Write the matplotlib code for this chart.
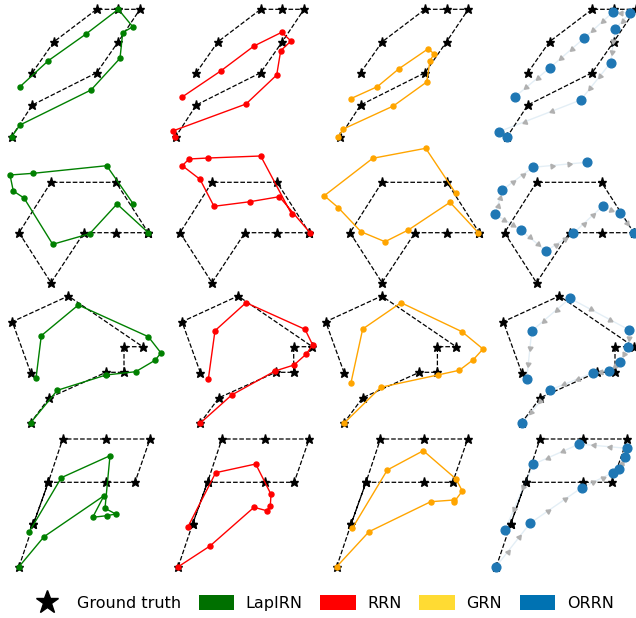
import math
import matplotlib
matplotlib.use("Agg")
import matplotlib.pyplot as plt
from matplotlib.lines import Line2D
from matplotlib.patches import Patch

# ---------------- data (shape coordinates) ----------------
# Ground-truth trajectory per row (shared by the 4 methods of that row)
gt_x = [
    [32.3, 54, 96.7, 118.3, 140, 118.3, 96.7, 32.3, 11.7],
    [148.3, 116, 84, 51, 19, 51, 116, 148.3],
    [30.7, 12.3, 68.3, 142.7, 124, 124, 106, 49.3, 30.7],
    [19, 33.3, 48.3, 62.7, 106, 150, 135, 106, 48.3, 33.3],
]
gt_y = [
    [72.7, 41.7, 9.3, 9.3, 9.3, 41.7, 72.7, 105, 136.7],
    [232.7, 232.7, 232.7, 282.7, 232.7, 182.3, 182.3, 232.7],
    [372.7, 321.7, 296, 346.7, 346.7, 372.3, 372.3, 397.7, 422.7],
    [566.7, 524.3, 482.3, 439, 439, 439, 482.3, 482.3, 482.3, 524.3],
]

lapirn_x = [
    [20, 48.3, 86, 118.3, 132.7, 122.7, 120, 91, 20, 11.7],
    [148.3, 117, 89.7, 52.7, 24, 13.3, 10, 33.3, 106.7, 133.3],
    [30.7, 57.3, 106, 135.7, 155, 161, 148.3, 78.3, 41.3, 36],
    [19, 44, 104, 92.7, 106.7, 115.7, 105, 110, 61.3, 29.3],
]
lapirn_y = [
    [86.7, 60.7, 34, 9.3, 26.7, 32.7, 58.3, 90, 125, 136.7],
    [232.7, 204, 233.7, 244.3, 198, 191, 175, 173.3, 165.7, 204],
    [422.7, 390.3, 375, 371.7, 360.3, 353, 336.7, 305, 335.7, 378.3],
    [566.7, 536.7, 495.7, 517.3, 515.7, 514, 508.3, 455.7, 477.7, 531.7],
]

rrn_x = [
    [17.7, 56.7, 90, 117.7, 127, 116.7, 112.7, 82, 8.7, 11],
    [149, 118.3, 89, 53, 39, 21.3, 28, 47.3, 99.7, 130.7],
    [30.3, 62, 105.3, 124.3, 136.3, 143, 135.3, 76.3, 45.3, 38.6],
    [19.1, 50.8, 94.8, 107.5, 111.1, 111.8, 96.5, 56.5, 28.8],
]
rrn_y = [
    [97.3, 71, 46, 32.3, 41, 50.7, 75, 104, 131, 136.7],
    [232.7, 196.7, 201.7, 206.3, 179.3, 165.7, 159, 158, 156, 214.3],
    [423.3, 395, 371, 365, 354.3, 345, 329.3, 302.7, 330.7, 379.3],
    [566.7, 546, 507.3, 510.7, 506, 494.3, 464, 472.7, 526.7],
]

grn_x = [
    [22.4, 49, 70.7, 100, 105.7, 101.7, 98.4, 65, 15, 10],
    [147.3, 119, 77.3, 54, 30, 7.3, -6.7, 41.7, 94.7, 124.7],
    [30.6, 67.3, 124.3, 145.9, 159.9, 169.6, 148.6, 87.6, 49.3, 37.6],
    [19, 51.3, 113, 136.3, 136.6, 144.6, 138.3, 105.6, 69.6, 34.6],
]
grn_y = [
    [98.7, 86.7, 68.7, 48.7, 54, 60.7, 82, 106, 129, 136.7],
    [232.7, 202.3, 230, 241.7, 231.7, 207.7, 195.7, 158.3, 148.3, 193.3],
    [423.3, 387.3, 375, 370.3, 359.7, 349, 331.7, 302.7, 329, 382.7],
    [566.7, 531.7, 501.7, 500, 501.7, 491, 479, 450.7, 470, 528.3],
]

orrn_x = [
    [19.5, 54.5, 88.5, 117.2, 134.5, 119.5, 115.2, 85.2, 3.5, 11.2],
    [148.5, 134.5, 117.2, 87.8, 60.5, 35.2, 9.8, 16.8, 47.2, 101.2],
    [31.3, 59, 102.3, 118.3, 129, 137.3, 138.3, 79, 40.7, 35.7],
    [18.7, 52.7, 104.4, 135.4, 142, 147.7, 149.4, 102, 56, 27.7],
]
orrn_y = [
    [96.7, 67.7, 38.3, 12.3, 12.7, 29.3, 62.7, 100, 131.7, 136.7],
    [232.7, 213.3, 206, 233.3, 251, 230, 214.3, 190, 167.3, 162.3],
    [422.7, 390, 372.7, 371, 361.7, 346.7, 330, 298.3, 331, 379.3],
    [566.7, 523.3, 487.7, 472.7, 469, 456.7, 448.3, 444, 464.3, 530],
]
# index of the point from which the ORRN flow arrows spread out
orrn_origin = [4, 6, 7, 0]

methods = ["LapIRN", "RRN", "GRN", "ORRN"]
legend_labels = ["Ground truth", "LapIRN", "RRN", "GRN", "ORRN"]

# ---------------- layout / style ----------------
W, H = 636, 618
CELL_W, CELL_H = 159, 143
# horizontal placement of each panel's content (pixels)
SHIFT = [
    [0, 164, 328.3, 495.5],
    [0, 161, 331, 485.5],
    [0, 169.7, 313.4, 491],
    [0, 159.2, 317.7, 477.3],
]
line_colors = {"LapIRN": "green", "RRN": "red", "GRN": "orange"}
legend_colors = ["#007000", "#ff0000", "#ffdb33", "#0072b2"]
ORRN_C = "#1f77b4"

fig = plt.figure(figsize=(W / 100, H / 100), dpi=100)

preds = {
    "LapIRN": (lapirn_x, lapirn_y),
    "RRN": (rrn_x, rrn_y),
    "GRN": (grn_x, grn_y),
    "ORRN": (orrn_x, orrn_y),
}


def draw_arrows(ax, xs, ys, origin):
    for i in range(len(xs) - 1):
        x0, y0, x1, y1 = xs[i], ys[i], xs[i + 1], ys[i + 1]
        if i < origin:
            x0, y0, x1, y1 = x1, y1, x0, y0
        vx, vy = x1 - x0, y1 - y0
        L = math.hypot(vx, vy)
        if L < 6:
            continue
        fracs = [0.5] if L < 25 else [0.35, 0.68]
        ang = math.degrees(math.atan2(-vy, vx))
        for f in fracs:
            ax.plot(x0 + f * vx, y0 + f * vy, ls="none",
                    marker=(3, 0, ang - 90), ms=4.0, color="#b0b0b0",
                    mec="#b0b0b0", zorder=3, clip_on=False)


for r in range(4):
    for c, m in enumerate(methods):
        X0, Y0 = c * CELL_W, r * CELL_H
        ax = fig.add_axes([X0 / W, 1 - (Y0 + CELL_H) / H, CELL_W / W, CELL_H / H])
        dx = SHIFT[r][c]
        ax.set_xlim(X0 - dx, X0 + CELL_W - dx)
        ax.set_ylim(Y0 + CELL_H, Y0)
        ax.axis("off")

        ax.plot(gt_x[r], gt_y[r], color="black", ls="--", lw=0.9,
                marker="*", ms=6.8, zorder=2, clip_on=False)

        px, py = preds[m]
        if m == "ORRN":
            ax.plot(px[r], py[r], color=ORRN_C, alpha=0.12, lw=1.0,
                    zorder=2.5, clip_on=False)
            draw_arrows(ax, px[r], py[r], orrn_origin[r])
            ax.plot(px[r], py[r], ls="none", marker="o", ms=6.3,
                    color=ORRN_C, zorder=4, clip_on=False)
        else:
            ax.plot(px[r], py[r], color=line_colors[m], lw=1.0, marker="o",
                    ms=3.6, zorder=3, clip_on=False)

handles = [Line2D([], [], marker="*", color="black", ls="none", ms=17)]
handles += [Patch(facecolor=col, edgecolor="none") for col in legend_colors]
fig.legend(handles, legend_labels, loc="center", bbox_to_anchor=(0.506, 0.024),
           ncol=5, frameon=False, fontsize=11.5, handlelength=2.2,
           handleheight=1.1, columnspacing=1.1, handletextpad=0.75)

fig.savefig("out.png", dpi=100)
